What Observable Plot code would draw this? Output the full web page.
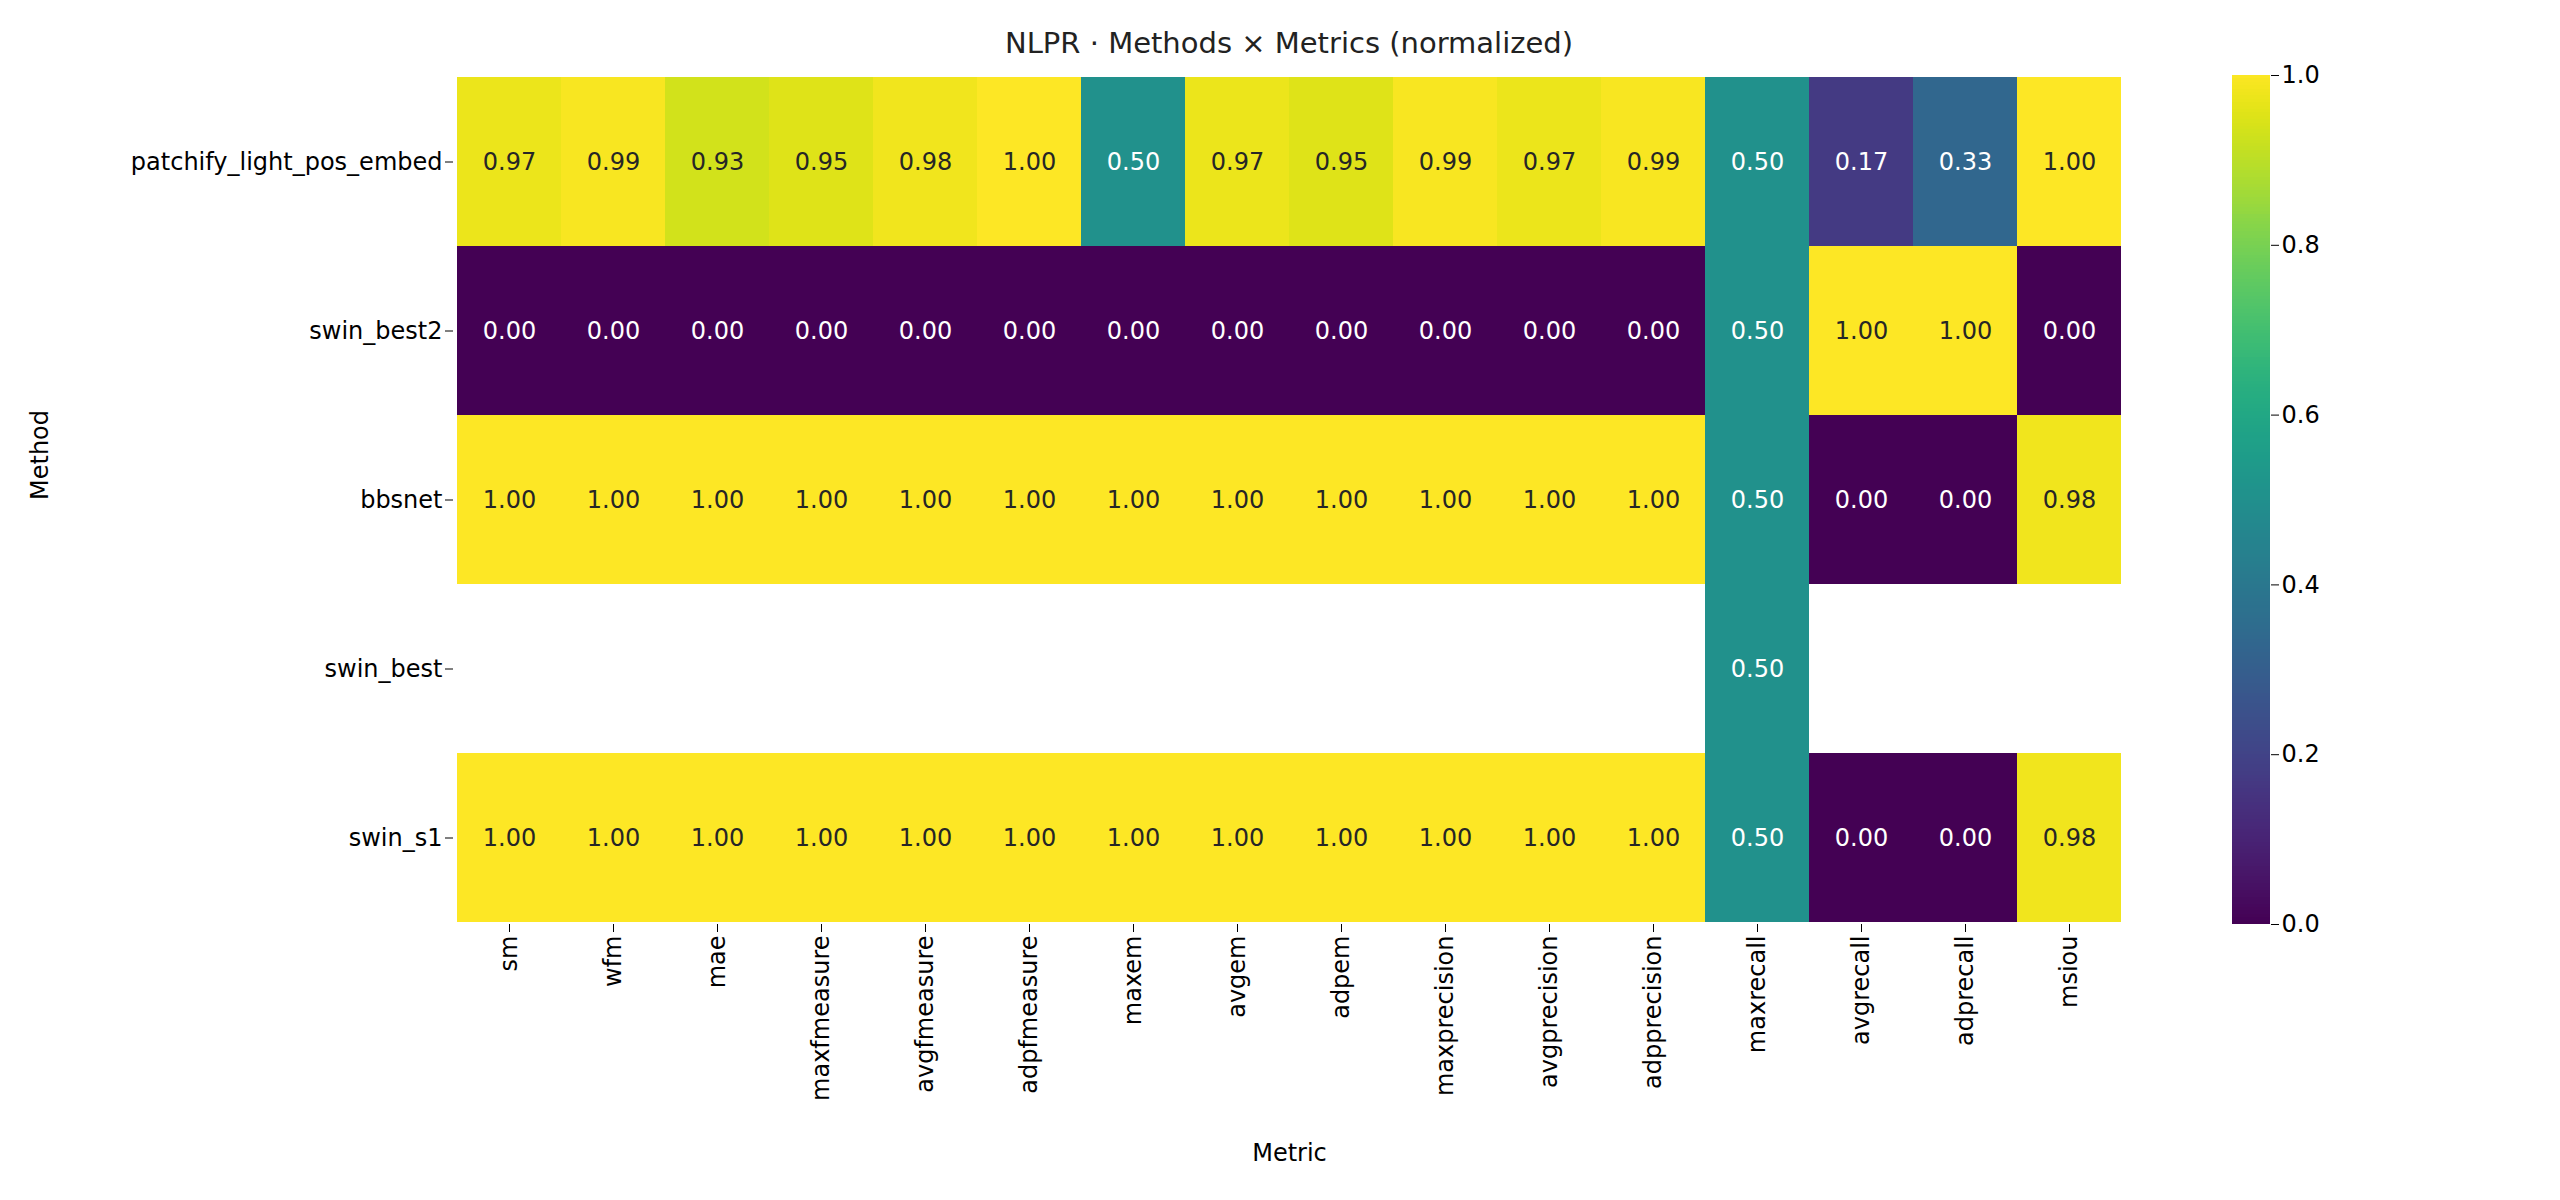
<!DOCTYPE html>
<html><head><meta charset="utf-8">
<script src="https://cdn.jsdelivr.net/npm/d3@7"></script>
<script src="https://cdn.jsdelivr.net/npm/@observablehq/plot@0.6"></script>
<style>
body{margin:0;background:#fff;font-family:"DejaVu Sans",sans-serif;}
#wrap{position:relative;width:2560px;height:1200px;}
#title{position:absolute;top:26px;left:453px;width:1672px;text-align:center;font-size:29px;color:#222;}
#main{position:absolute;left:0;top:0;}
#bar{position:absolute;left:2180px;top:0;}
</style></head><body>
<div id="wrap"><div id="main"></div><div id="bar"></div><div id="title">NLPR · Methods × Metrics (normalized)</div></div>
<script>
const methods = ["patchify_light_pos_embed","swin_best2","bbsnet","swin_best","swin_s1"];
const metrics = ["sm","wfm","mae","maxfmeasure","avgfmeasure","adpfmeasure","maxem","avgem","adpem","maxprecision","avgprecision","adpprecision","maxrecall","avgrecall","adprecall","msiou"];
const vPatchify = [0.97,0.99,0.93,0.95,0.98,1.00,0.50,0.97,0.95,0.99,0.97,0.99,0.50,0.17,0.33,1.00];
const vSwinBest2 = [0,0,0,0,0,0,0,0,0,0,0,0,0.50,1.00,1.00,0];
const vBbsnet = [1,1,1,1,1,1,1,1,1,1,1,1,0.50,0,0,0.98];
const vSwinBest = [null,null,null,null,null,null,null,null,null,null,null,null,0.50,null,null,null];
const vSwinS1 = [1,1,1,1,1,1,1,1,1,1,1,1,0.50,0,0,0.98];
const rows = [vPatchify,vSwinBest2,vBbsnet,vSwinBest,vSwinS1];
const barTicks = [0,0.2,0.4,0.6,0.8,1.0];

const data = [];
rows.forEach((r,i) => r.forEach((v,j) => { if (v != null) data.push({method: methods[i], metric: metrics[j], value: v}); }));

const main = Plot.plot({
  width: 2200, height: 1200,
  marginTop: 75, marginBottom: 276, marginLeft: 453, marginRight: 75,
  style: {fontSize: "24px", fontFamily: "DejaVu Sans", background: "#fff"},
  x: {domain: metrics, padding: 0, label: null, tickRotate: -90, tickSize: 8},
  y: {domain: methods, padding: 0, label: null, tickSize: 8},
  color: {type: "linear", scheme: "viridis", domain: [0, 1]},
  marks: [
    Plot.cell(data, {x: "metric", y: "method", fill: "value", inset: 0}),
    Plot.text(data, {x: "metric", y: "method", text: d => d.value.toFixed(2),
      fill: d => d.value < 0.6 ? "#fff" : "#262626", fontSize: 24}),
    Plot.axisX({tickRotate: -90, tickSize: 8, fontSize: 24, label: null}),
    Plot.axisY({tickSize: 8, fontSize: 24, label: null}),
    Plot.text(["Metric"], {frameAnchor: "bottom", dy: 236, fontSize: 24}),
    Plot.text(["Method"], {frameAnchor: "left", dx: -413, rotate: -90, fontSize: 24})
  ]
});
document.getElementById("main").append(main);

const steps = d3.range(0, 1, 0.004).map(a => ({a, b: a + 0.004}));
const bar = Plot.plot({
  width: 200, height: 1200,
  marginTop: 75, marginBottom: 276, marginLeft: 52, marginRight: 110,
  style: {fontSize: "24px", fontFamily: "DejaVu Sans"},
  x: {axis: null, domain: [0, 1]},
  y: {domain: [0, 1], ticks: barTicks, tickFormat: d3.format(".1f"), label: null},
  color: {type: "linear", scheme: "viridis", domain: [0, 1]},
  marks: [
    Plot.rect(steps, {x1: 0, x2: 1, y1: "a", y2: "b", fill: "a", inset: 0, shapeRendering: "crispEdges"}),
    Plot.axisY({anchor: "right", ticks: barTicks, tickFormat: d3.format(".1f"), tickSize: 8, fontSize: 24, label: null})
  ]
});
document.getElementById("bar").append(bar);
</script>
</body></html>
